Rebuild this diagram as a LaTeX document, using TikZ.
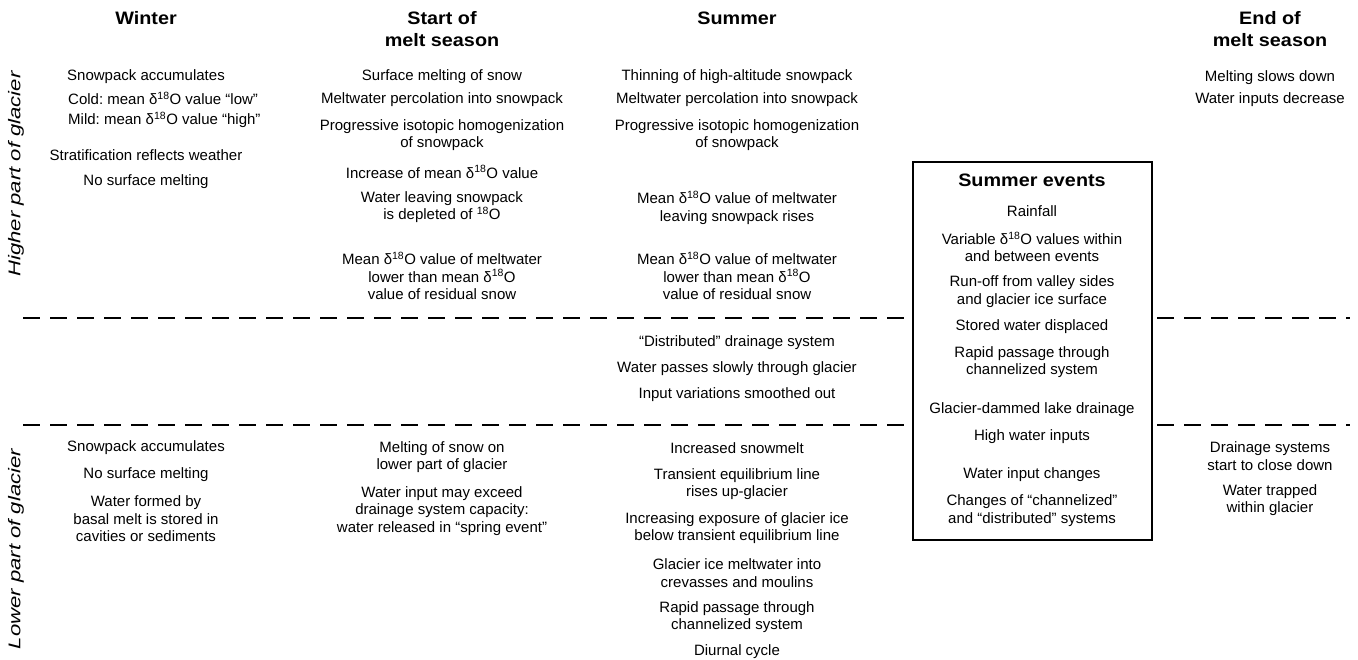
\documentclass[tikz,border=0pt]{standalone}
\usepackage{fontspec}
\setmainfont{Liberation Sans}
\newfontfamily\headfam{Liberation Sans}[FakeStretch=1.1]
\newfontfamily\sidefam{Liberation Sans}[FakeStretch=1.3]
\newcommand{\deltaO}{δ\textsuperscript{18}O}

\tikzset{
  head/.style={font=\headfam\bfseries\fontsize{18}{22}\selectfont, align=center, inner sep=0pt},
  note/.style={font=\frenchspacing\fontsize{15}{17.5}\selectfont, align=center, inner sep=0pt},
  side/.style={font=\sidefam\itshape\fontsize{17}{20}\selectfont, rotate=90, inner sep=0pt},
  zoneline/.style={line width=2pt, dash pattern=on 17pt off 10pt},
  eventbox/.style={draw, line width=1.2pt, fill=white}
}

\begin{document}
\begin{tikzpicture}[x=1pt,y=-1pt]
	\useasboundingbox (0,0) rectangle (1358,660);

	% zone limits
	\coordinate (za) at (23,318);
	\coordinate (zb) at (1350,318);
	\coordinate (zc) at (23,425);
	\coordinate (zd) at (1350,425);
	\draw[zoneline] (za) -- (zb);
	\draw[zoneline] (zc) -- (zd);

	% headers
	\node[head] (hwin) at (146,18) {Winter};
	\node[head] (hstart) at (442,29) {Start of\\melt season};
	\node[head] (hsum) at (737,18) {Summer};
	\node[head] (hend) at (1270,29) {End of\\melt season};

	\node[side] (hi) at (16,174) {Higher part of glacier};
	\node[side] (lo) at (16,549) {Lower part of glacier};

	% higher part, winter
	\node[note] (w1) at (146,77) {Snowpack accumulates};
	\node[note, align=left, anchor=west] (w2) at (68,110) {Cold: mean \deltaO{} value “low”\\[2.5pt]Mild: mean \deltaO{} value “high”};
	\node[note] (w3) at (146,155) {Stratification reflects weather};
	\node[note] (w4) at (146,182) {No surface melting};

	% higher part, start of melt season
	\node[note] (s1) at (442,77) {Surface melting of snow};
	\node[note] (s2) at (442,100) {Meltwater percolation into snowpack};
	\node[note] (s3) at (442,135) {Progressive isotopic homogenization\\of snowpack};
	\node[note] (s4) at (442,172) {Increase of mean \deltaO{} value};
	\node[note] (s5) at (442,207) {Water leaving snowpack\\is depleted of \textsuperscript{18}O};
	\node[note] (s6) at (442,276) {Mean \deltaO{} value of meltwater\\lower than mean \deltaO\\value of residual snow};

	% higher part, summer
	\node[note] (u1) at (737,77) {Thinning of high-altitude snowpack};
	\node[note] (u2) at (737,100) {Meltwater percolation into snowpack};
	\node[note] (u3) at (737,135) {Progressive isotopic homogenization\\of snowpack};
	\node[note] (u4) at (737,208) {Mean \deltaO{} value of meltwater\\leaving snowpack rises};
	\node[note] (u5) at (737,276) {Mean \deltaO{} value of meltwater\\lower than mean \deltaO\\value of residual snow};

	% higher part, end of melt season
	\node[note] (e1) at (1270,78) {Melting slows down};
	\node[note] (e2) at (1270,100) {Water inputs decrease};

	% middle band
	\node[note] (m1) at (737,343) {“Distributed” drainage system};
	\node[note] (m2) at (737,369) {Water passes slowly through glacier};
	\node[note] (m3) at (737,395) {Input variations smoothed out};

	% lower part
	\node[note] (lw1) at (146,448) {Snowpack accumulates};
	\node[note] (lw2) at (146,475) {No surface melting};
	\node[note] (lw3) at (146,519) {Water formed by\\basal melt is stored in\\cavities or sediments};

	\node[note] (ls1) at (442,457) {Melting of snow on\\lower part of glacier};
	\node[note] (ls2) at (442,511) {Water input may exceed\\drainage system capacity:\\water released in “spring event”};

	\node[note] (lu1) at (737,448) {Increased snowmelt};
	\node[note] (lu2) at (737,484) {Transient equilibrium line\\rises up-glacier};
	\node[note] (lu3) at (737,528) {Increasing exposure of glacier ice\\below transient equilibrium line};
	\node[note] (lu4) at (737,573) {Glacier ice meltwater into\\crevasses and moulins};
	\node[note] (lu5) at (737,617) {Rapid passage through\\channelized system};
	\node[note] (lu6) at (737,652) {Diurnal cycle};

	\node[note] (le1) at (1270,456) {Drainage systems\\start to close down};
	\node[note] (le2) at (1270,500) {Water trapped\\within glacier};

	% summer events
	\node[eventbox, minimum width=239pt, minimum height=378pt] (evbox) at (1032.5,351) {};
	\node[head] (evt) at (1032,180) {Summer events};
	\node[note] (v1) at (1032,211) {Rainfall};
	\node[note] (v2) at (1032,247) {Variable \deltaO{} values within\\and between events};
	\node[note] (v3) at (1032,291.5) {Run-off from valley sides\\and glacier ice surface};
	\node[note] (v4) at (1032,327) {Stored water displaced};
	\node[note] (v5) at (1032,362) {Rapid passage through\\channelized system};
	\node[note] (v6) at (1032,410) {Glacier-dammed lake drainage};
	\node[note] (v7) at (1032,437) {High water inputs};
	\node[note] (v8) at (1032,475) {Water input changes};
	\node[note] (v9) at (1032,510.5) {Changes of “channelized”\\and “distributed” systems};
\end{tikzpicture}
\end{document}
